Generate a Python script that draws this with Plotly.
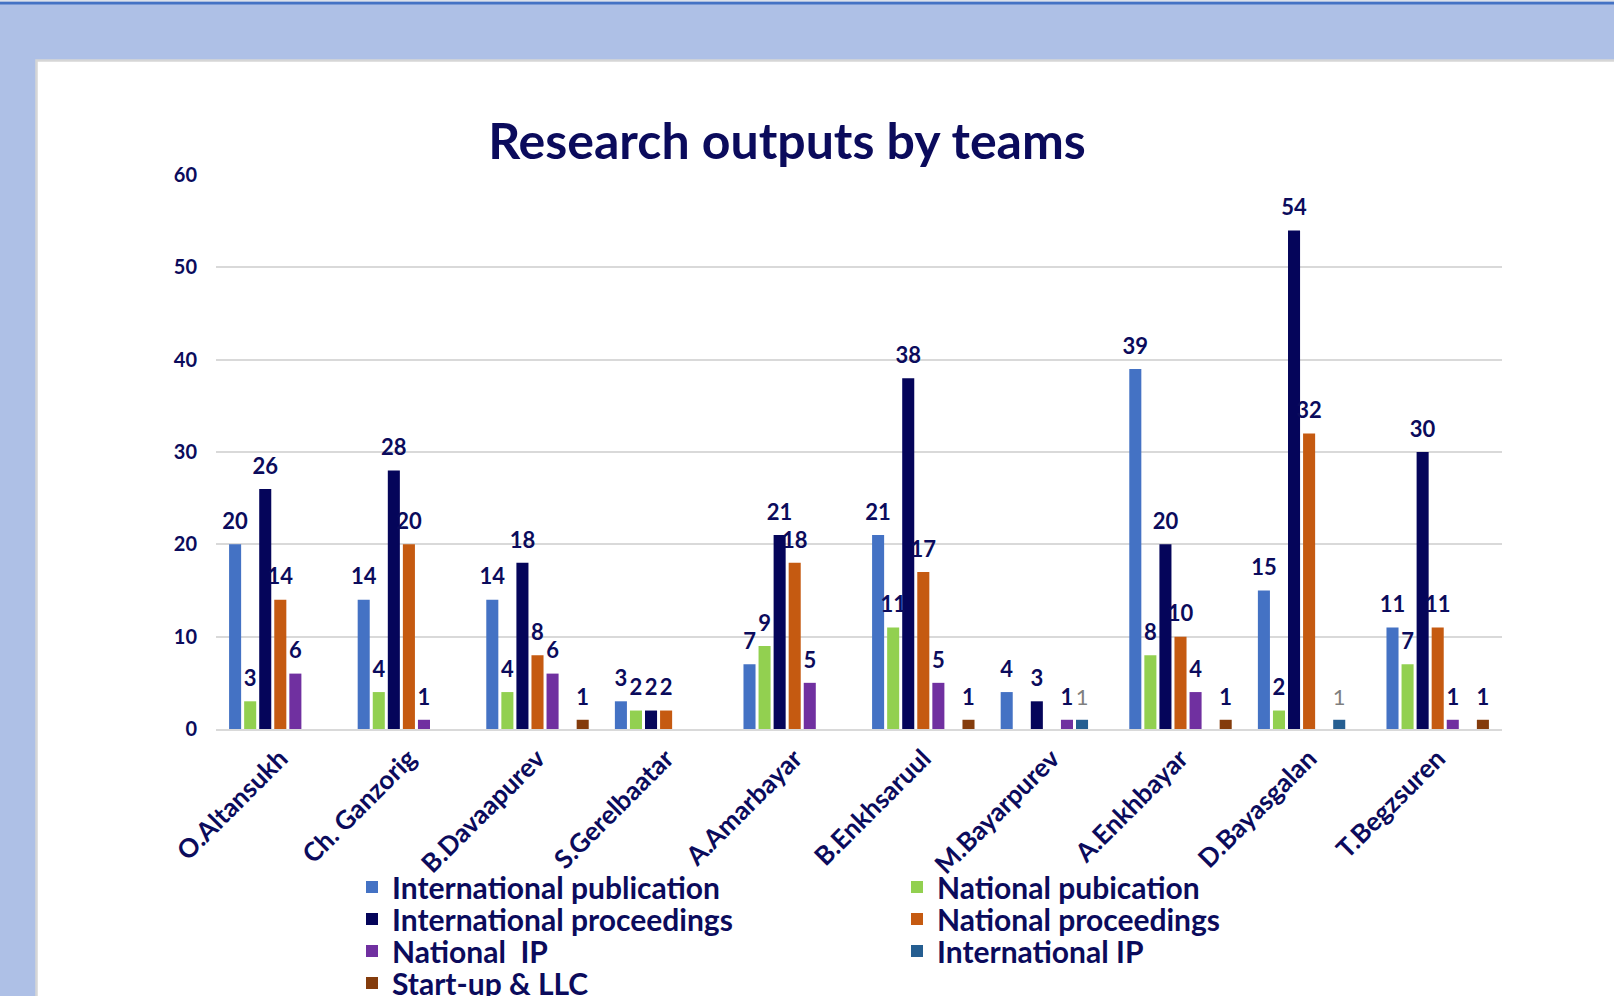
import plotly.graph_objects as go

# ---------------- data ----------------
teams = ["O.Altansukh", "Ch. Ganzorig", "B.Davaapurev", "S.Gerelbaatar", "A.Amarbayar",
         "B.Enkhsaruul", "M.Bayarpurev", "A.Enkhbayar", "D.Bayasgalan", "T.Begzsuren"]

intl_publication = [20, 14, 14, 3, 7, 21, 4, 39, 15, 11]
natl_publication = [3, 4, 4, 2, 9, 11, 0, 8, 2, 7]
intl_proceedings = [26, 28, 18, 2, 21, 38, 3, 20, 54, 30]
natl_proceedings = [14, 20, 8, 2, 18, 17, 0, 10, 32, 11]
natl_ip = [6, 1, 6, 0, 5, 5, 1, 4, 0, 1]
intl_ip = [0, 0, 0, 0, 0, 0, 1, 0, 1, 0]
startup_llc = [0, 0, 1, 0, 0, 1, 0, 1, 0, 1]

series_names = ["International publication", "National pubication", "International proceedings",
                "National proceedings", "National  IP", "International IP", "Start-up & LLC"]
series_values = [intl_publication, natl_publication, intl_proceedings, natl_proceedings,
                 natl_ip, intl_ip, startup_llc]
series_colors = ["#4472C4", "#92D050", "#05055A", "#C55A11", "#7030A0", "#255E91", "#843C0C"]

y_ticks = [0, 10, 20, 30, 40, 50, 60]

# ---------------- layout geometry ----------------
W, H = 1614, 996
ML, MR, MT, MB = 216, 112, 175, 267
PW, PH = W - ML - MR, H - MT - MB

def px(x):
    return (x - ML) / PW

def py(y):
    return (H - MB - y) / PH

NAVY = "#0B0B5C"
FONT = "Lato"
legend_ids = ["legend", "legend2", "legend3", "legend4"]
legend_rows_y = [887, 919, 951, 983]

fig = go.Figure()

for i, (name, vals, col) in enumerate(zip(series_names, series_values, series_colors)):
    fig.add_trace(go.Bar(
        x=teams, y=vals, name=name, marker=dict(color=col, line=dict(width=0)),
        offsetgroup=name, alignmentgroup="bars", legend=legend_ids[i // 2],
        hoverinfo="x+y+name",
    ))

for name, vals, col in zip(series_names, series_values, series_colors):
    is_intl_ip = name == "International IP"
    fig.add_trace(go.Scatter(
        x=teams, y=vals, mode="markers+text",
        text=[str(v) if v else "" for v in vals],
        textposition="top center",
        textfont=dict(family=FONT, size=22, color="#7F7F7F" if is_intl_ip else NAVY,
                      weight="normal" if is_intl_ip else "bold"),
        marker=dict(size=14, color="rgba(0,0,0,0)"),
        offsetgroup=name, alignmentgroup="labels",
        showlegend=False, hoverinfo="skip", cliponaxis=False,
    ))

shapes = [
    # white panel with gray border
    dict(type="rect", xref="paper", yref="paper", x0=px(36.5), x1=px(W + 20),
         y0=py(H + 20), y1=py(60.5), fillcolor="white",
         line=dict(color="#D6D6D6", width=2.5), layer="below"),
    # top accent line
    dict(type="rect", xref="paper", yref="paper", x0=px(-10), x1=px(W + 10),
         y0=py(4.5), y1=py(1.5), fillcolor="#4472C4", line=dict(width=0), layer="below"),
    dict(type="rect", xref="paper", yref="paper", x0=px(-10), x1=px(W + 10),
         y0=py(1.5), y1=py(-5), fillcolor="#DCE1EA", line=dict(width=0), layer="below"),
]

legend_common = dict(orientation="h", xanchor="left", yanchor="middle",
                     entrywidth=500, entrywidthmode="pixels",
                     font=dict(family=FONT, size=30, color=NAVY, weight="bold"),
                     bgcolor="rgba(0,0,0,0)", itemclick=False, itemdoubleclick=False)

layout_legends = {}
for lid, ly in zip(legend_ids, legend_rows_y):
    layout_legends[lid] = dict(legend_common, x=px(352), y=py(ly))

fig.update_layout(
    width=W, height=H,
    margin=dict(l=ML, r=MR, t=MT, b=MB, autoexpand=False),
    paper_bgcolor="#AEC0E6", plot_bgcolor="white",
    barmode="group", bargap=0.18, bargroupgap=0.2,
    scattermode="group", scattergap=0.18,
    title=dict(text="<b>Research outputs by teams</b>", x=787 / W, xref="container",
               xanchor="center", y=1 - 141 / H, yanchor="middle", yref="container",
               font=dict(family=FONT, size=50, color=NAVY)),
    xaxis=dict(tickangle=-45, tickfont=dict(family=FONT, size=26, color=NAVY, weight="bold"),
               showline=True, linecolor="#D9D9D9", linewidth=2, showgrid=False,
               ticks="", ticklabelstandoff=2),
    yaxis=dict(range=[0, 60], tickvals=y_ticks, showgrid=True, gridcolor="#D9D9D9", gridwidth=2,
               zeroline=False, showline=False, ticks="",
               tickfont=dict(family=FONT, size=20, color=NAVY, weight="bold"),
               ticklabelstandoff=18),
    shapes=shapes,
    showlegend=True,
    **layout_legends,
)

fig.write_html(
    "out.html",
    config={"displayModeBar": False},
    post_script="document.body.style.margin='0';document.body.style.overflow='hidden';",
)
